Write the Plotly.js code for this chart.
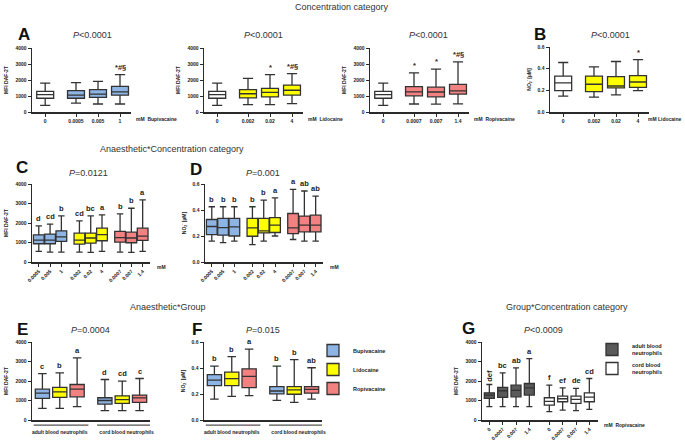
<!DOCTYPE html>
<html>
<head>
<meta charset="utf-8">
<script src="https://cdn.plot.ly/plotly-3.0.1.min.js"></script>
<style>
  html, body { margin: 0; padding: 0; background: #fff; }
  #chart { width: 685px; height: 442px; }
</style>
</head>
<body>
<div id="chart"></div>
<script>
// Box statistics are [lower whisker, Q1, median, Q3, upper whisker]

// A: MFI DAF-2T by concentration (control + one anaesthetic per panel)
const controlA = [420, 860, 1090, 1290, 1800];
const bupConcA = ['0', '0.0005', '0.005', '1'];
const bupA = [[550, 860, 1060, 1330, 1830], [500, 920, 1120, 1400, 1920], [500, 1050, 1260, 1600, 2340]];
const bupSigA = ['', '', '', '*#§'];
const lidoConcA = ['0', '0.002', '0.02', '4'];
const lidoA = [[460, 880, 1140, 1400, 2100], [460, 940, 1230, 1480, 2340], [520, 1060, 1360, 1680, 2400]];
const lidoSigA = ['', '', '*', '*#§'];
const ropiConcA = ['0', '0.0007', '0.007', '1.4'];
const ropiA = [[500, 1010, 1260, 1580, 2440], [490, 950, 1250, 1550, 2680], [510, 1120, 1320, 1730, 3130]];
const ropiSigA = ['', '*', '*', '*#§'];

// B: NO2- (µM), lidocaine
const controlB = [0.146, 0.198, 0.268, 0.332, 0.457];
const lidoB = [[0.137, 0.189, 0.256, 0.332, 0.417], [0.158, 0.222, 0.240, 0.326, 0.466], [0.198, 0.228, 0.277, 0.335, 0.484]];
const sigB = ['', '', '', '*'];

// C/D: anaesthetic x concentration
const concCD = ['0.0005', '0.005', '1', '0.002', '0.02', '4', '0.0007', '0.007', '1.4'];
const cStats = [
  [[545, 936, 1120, 1395, 1855], [510, 936, 1120, 1430, 1940], [510, 1055, 1290, 1600, 2365]],
  [[510, 920, 1120, 1480, 2110], [494, 970, 1230, 1480, 2365], [545, 1089, 1400, 1736, 2417]],
  [[510, 1021, 1250, 1566, 2468], [494, 987, 1230, 1532, 2757], [545, 1106, 1330, 1736, 3183]]
];
const cSig = [['d', 'cd', 'b'], ['cd', 'bc', 'a'], ['b', 'b', 'a']];
const dStats = [
  [[0.160, 0.211, 0.273, 0.327, 0.425], [0.149, 0.206, 0.265, 0.335, 0.425], [0.160, 0.200, 0.270, 0.335, 0.425]],
  [[0.134, 0.198, 0.263, 0.335, 0.425], [0.160, 0.224, 0.240, 0.335, 0.476], [0.200, 0.227, 0.283, 0.342, 0.494]],
  [[0.173, 0.219, 0.263, 0.373, 0.559], [0.160, 0.232, 0.283, 0.353, 0.546], [0.160, 0.232, 0.283, 0.360, 0.507]]
];
const dSig = [['b', 'b', 'b'], ['b', 'b', 'a'], ['a', 'ab', 'ab']];

// E/F: anaesthetic x group
const groups = ['adult blood neutrophils', 'cord blood neutrophils'];
const drugs = ['Bupivacaine', 'Lidocaine', 'Ropivacaine'];
const eStats = [
  [[596, 1106, 1380, 1583, 2383], [477, 817, 1000, 1140, 2077]],
  [[596, 1157, 1447, 1668, 2417], [477, 851, 1040, 1242, 1991]],
  [[681, 1191, 1583, 1821, 3183], [477, 902, 1130, 1276, 2128]]
];
const eSig = [['c', 'd'], ['b', 'cd'], ['a', 'c']];
const fStats = [
  [[0.161, 0.264, 0.306, 0.349, 0.414], [0.151, 0.201, 0.223, 0.256, 0.414]],
  [[0.181, 0.264, 0.319, 0.369, 0.487], [0.136, 0.198, 0.231, 0.256, 0.464]],
  [[0.188, 0.249, 0.336, 0.394, 0.545], [0.161, 0.206, 0.236, 0.256, 0.402]]
];
const fSig = [['b', 'b'], ['b', 'b'], ['a', 'ab']];

// G: group x concentration (ropivacaine)
const concG = ['0', '0.0007', '0.007', '1.4'];
const gAdult = [[681, 1106, 1276, 1396, 1820], [681, 1157, 1500, 1668, 2417], [681, 1191, 1520, 1787, 2672], [681, 1276, 1650, 1872, 3149]];
const gCord = [[426, 766, 950, 1140, 1787], [511, 936, 1090, 1225, 1651], [477, 851, 1060, 1225, 1617], [545, 936, 1170, 1396, 2128]];
const gSigAdult = ['def', 'bc', 'ab', 'a'];
const gSigCord = ['f', 'ef', 'de', 'cd'];

// Colours
const colControl = '#ffffff';
const drugColors = ['#8db4e3', '#ffff00', '#f28282'];
const colAdult = '#5a5a5a';
const colCord = '#ffffff';
const AXIS = '#2a2a2a';
const FONT = 'Liberation Sans, Arial, sans-serif';

// Slot positions on each numeric x axis
const posA = [0.6, 2.0, 3.0, 4.0];
const posC = [0.6, 1.6, 2.6, 4.2, 5.2, 6.2, 7.8, 8.8, 9.8];
const posE = [0.6, 1.6, 2.6, 4.2, 5.2, 6.2];
const posG = [0.55, 1.55, 2.55, 3.55, 5.05, 6.05, 7.05, 8.05];

const W = 685, H = 442;
const fx = v => v / W;
const fy = v => 1 - v / H;

const tickFont = { family: FONT, size: 5, weight: 'bold', color: '#222' };
const sigFont = { family: FONT, size: 7.5, weight: 'bold', color: '#222' };
const legendFont = { family: FONT, size: 5.5, weight: 'bold', color: '#222' };

let traces = [];
let annotations = [];
let shapes = [];
let layout = {
  width: W,
  height: H,
  autosize: false,
  margin: { l: 0, r: 0, t: 0, b: 0, pad: 0 },
  paper_bgcolor: '#ffffff',
  plot_bgcolor: '#ffffff',
  boxmode: 'overlay',
  font: { family: FONT, color: '#222' },
  legend: {
    x: fx(313), y: fy(336), xanchor: 'left', yanchor: 'top',
    font: legendFont, bgcolor: 'rgba(0,0,0,0)', tracegroupgap: 0, traceorder: 'normal'
  },
  legend2: {
    x: fx(592), y: fy(335), xanchor: 'left', yanchor: 'top',
    font: legendFont, bgcolor: 'rgba(0,0,0,0)', tracegroupgap: 0, traceorder: 'normal'
  }
};

function axName(prefix, n) {
  return n === 1 ? prefix : prefix + n;
}

// Build a box trace from precomputed statistics
function boxTrace(stats, xs, fill, n, width, extra) {
  return Object.assign({
    type: 'box',
    x: xs,
    lowerfence: stats.map(s => s[0]),
    q1: stats.map(s => s[1]),
    median: stats.map(s => s[2]),
    q3: stats.map(s => s[3]),
    upperfence: stats.map(s => s[4]),
    xaxis: axName('x', n),
    yaxis: axName('y', n),
    fillcolor: fill,
    line: { color: '#333333', width: 1.3 },
    whiskerwidth: 0.6,
    width: width,
    boxpoints: false,
    hoverinfo: 'skip',
    showlegend: false
  }, extra || {});
}

function addSig(xs, stats, labels, n, rotateLong) {
  labels.forEach((lab, i) => {
    if (!lab) return;
    annotations.push({
      xref: axName('x', n), yref: axName('y', n),
      x: xs[i], y: stats[i][4],
      text: lab, showarrow: false,
      xanchor: 'center', yanchor: 'bottom', yshift: 1,
      textangle: (rotateLong && lab.length > 2) ? -90 : 0,
      font: sigFont
    });
  });
}

function setAxes(n, xPx, yPx, xRange, tickvals, ticktext, yRange, dtick, fmt, ytitle, xExtra) {
  layout[axName('xaxis', n)] = Object.assign({
    domain: [fx(xPx[0]), fx(xPx[1])],
    anchor: axName('y', n),
    range: xRange,
    tickmode: 'array', tickvals: tickvals, ticktext: ticktext,
    tickangle: 0,
    showline: true, linecolor: AXIS, linewidth: 1.5,
    ticks: 'outside', ticklen: 3, tickwidth: 1, tickcolor: AXIS,
    tickfont: tickFont,
    showgrid: false, zeroline: false, fixedrange: true
  }, xExtra || {});
  layout[axName('yaxis', n)] = {
    domain: [fy(yPx[1]), fy(yPx[0])],
    anchor: axName('x', n),
    range: yRange, tick0: 0, dtick: dtick, tickformat: fmt,
    showline: true, linecolor: AXIS, linewidth: 1.5,
    ticks: 'outside', ticklen: 3, tickwidth: 1, tickcolor: AXIS,
    tickfont: tickFont,
    title: { text: ytitle, font: { family: FONT, size: 5, weight: 'bold', color: '#222' }, standoff: 6 },
    showgrid: false, zeroline: false, fixedrange: true
  };
}

function text(x, y, str, size, extra) {
  annotations.push(Object.assign({
    xref: 'paper', yref: 'paper', x: fx(x), y: fy(y),
    text: str, showarrow: false, xanchor: 'center', yanchor: 'middle',
    font: { family: FONT, size: size, color: '#333' }
  }, extra || {}));
}

const MFI = 'MFI DAF-2T';
const NO2 = 'NO<sub>2</sub><sup>-</sup> [µM]';

// ---- Panel A (three anaesthetics) ----
const aPanels = [
  { concs: bupConcA, stats: bupA, sig: bupSigA, color: drugColors[0], drug: 'Bupivacaine', xPx: [32, 131] },
  { concs: lidoConcA, stats: lidoA, sig: lidoSigA, color: drugColors[1], drug: 'Lidocaine', xPx: [204, 303] },
  { concs: ropiConcA, stats: ropiA, sig: ropiSigA, color: drugColors[2], drug: 'Ropivacaine', xPx: [370, 469] }
];
aPanels.forEach((p, k) => {
  const n = k + 1;
  traces.push(boxTrace([controlA], [posA[0]], colControl, n, 0.77));
  traces.push(boxTrace(p.stats, posA.slice(1), p.color, n, 0.77));
  addSig(posA, [controlA].concat(p.stats), p.sig, n, false);
  setAxes(n, p.xPx, [48, 112], [0, 4.5], posA, p.concs, [0, 4000], 1000, 'd', MFI);
  text(p.xPx[1] + 3, 119, 'mM  ' + p.drug, 5, { xanchor: 'left', font: tickFont });
});

// ---- Panel B ----
traces.push(boxTrace([controlB], [posA[0]], colControl, 4, 0.77));
traces.push(boxTrace(lidoB, posA.slice(1), drugColors[1], 4, 0.77));
addSig(posA, [controlB].concat(lidoB), sigB, 4, false);
setAxes(4, [550, 649], [47, 112], [0, 4.5], posA, lidoConcA, [0, 0.6], 0.2, '.1f', NO2);
text(684, 119, 'mM Lidocaine', 5, { xanchor: 'right', font: tickFont });

// ---- Panels C and D ----
[[5, cStats, cSig, [32, 150], [0, 4000], 1000, 'd', MFI],
 [6, dStats, dSig, [205, 323], [0, 0.6], 0.2, '.1f', NO2]].forEach(cfg => {
  const [n, stats, sig, xPx, yRange, dtick, fmt, title] = cfg;
  stats.forEach((grp, g) => {
    const xs = posC.slice(3 * g, 3 * g + 3);
    traces.push(boxTrace(grp, xs, drugColors[g], n, 0.95));
    addSig(xs, grp, sig[g], n, false);
  });
  setAxes(n, xPx, [184, 262], [0, 10.45], posC, concCD, yRange, dtick, fmt, title, { tickangle: -45 });
  text(xPx[1] + 5, 267, 'mM', 5, { xanchor: 'left', font: tickFont });
});

// ---- Panels E and F ----
const underlines = [[0.1, 3.25], [3.75, 6.8]];
const groupLabelAt = [1.6, 5.45];
[[7, eStats, eSig, [32, 150], [0, 4000], 1000, 'd', MFI],
 [8, fStats, fSig, [204, 322], [0, 0.6], 0.2, '.1f', NO2]].forEach(cfg => {
  const [n, stats, sig, xPx, yRange, dtick, fmt, title] = cfg;
  stats.forEach((byGroup, d) => {
    const xs = [posE[d], posE[3 + d]];
    traces.push(boxTrace(byGroup, xs, drugColors[d], n, 0.82, n === 8 ? { name: drugs[d], showlegend: true, legend: 'legend' } : {}));
    addSig(xs, byGroup, sig[d], n, false);
  });
  setAxes(n, xPx, [342, 420], [0, 6.8], groupLabelAt, groups, yRange, dtick, fmt, title,
    { ticks: '', ticklabelstandoff: 6, tickfont: { family: FONT, size: 5, weight: 'bold', color: '#222' } });
  underlines.forEach(u => {
    shapes.push({ type: 'line', xref: axName('x', n), yref: axName('y', n) + ' domain',
      x0: u[0], x1: u[1], y0: -0.065, y1: -0.065, line: { color: '#555', width: 1.3 } });
  });
});

// ---- Panel G ----
traces.push(boxTrace(gAdult, posG.slice(0, 4), colAdult, 9, 0.75, { name: 'adult blood<br>neutrophils', showlegend: true, legend: 'legend2' }));
traces.push(boxTrace(gCord, posG.slice(4), colCord, 9, 0.75, { name: 'cord blood<br>neutrophils', showlegend: true, legend: 'legend2' }));
addSig(posG.slice(0, 4), gAdult, gSigAdult, 9, true);
addSig(posG.slice(4), gCord, gSigCord, 9, true);
setAxes(9, [482, 598], [342, 420], [0, 8.7], posG, concG.concat(concG), [0, 4000], 1000, 'd', MFI, { tickangle: -45 });
text(602, 425, 'mM  Ropivacaine', 5, { xanchor: 'left', font: tickFont });

// ---- Titles, panel letters, P values ----
const letterFont = { family: FONT, size: 17, weight: 'bold', color: '#111' };
text(342, 7, 'Concentration category', 9);
text(172, 149, 'Anaesthetic*Concentration category', 9);
text(168, 307, 'Anaesthetic*Group', 9);
text(567, 307, 'Group*Concentration category', 9);

[['A', 24, 35], ['B', 540, 35], ['C', 22, 167], ['D', 196, 170], ['E', 22, 329], ['F', 197, 329], ['G', 468, 328]]
  .forEach(l => text(l[1], l[2], l[0], 17, { font: letterFont }));

[['<i>P</i>&lt;0.0001', 92, 35], ['<i>P</i>&lt;0.0001', 263, 35], ['<i>P</i>&lt;0.0001', 428, 35], ['<i>P</i>&lt;0.0001', 610, 35],
 ['<i>P</i>=0.0121', 88, 173], ['<i>P</i>=0.001', 263, 173],
 ['<i>P</i>=0.0004', 90, 330], ['<i>P</i>=0.015', 263, 330], ['<i>P</i>&lt;0.0009', 543, 330]]
  .forEach(p => text(p[1], p[2], p[0], 9));

layout.annotations = annotations;
layout.shapes = shapes;

Plotly.newPlot('chart', traces, layout, { staticPlot: true, displayModeBar: false });
</script>
</body>
</html>
